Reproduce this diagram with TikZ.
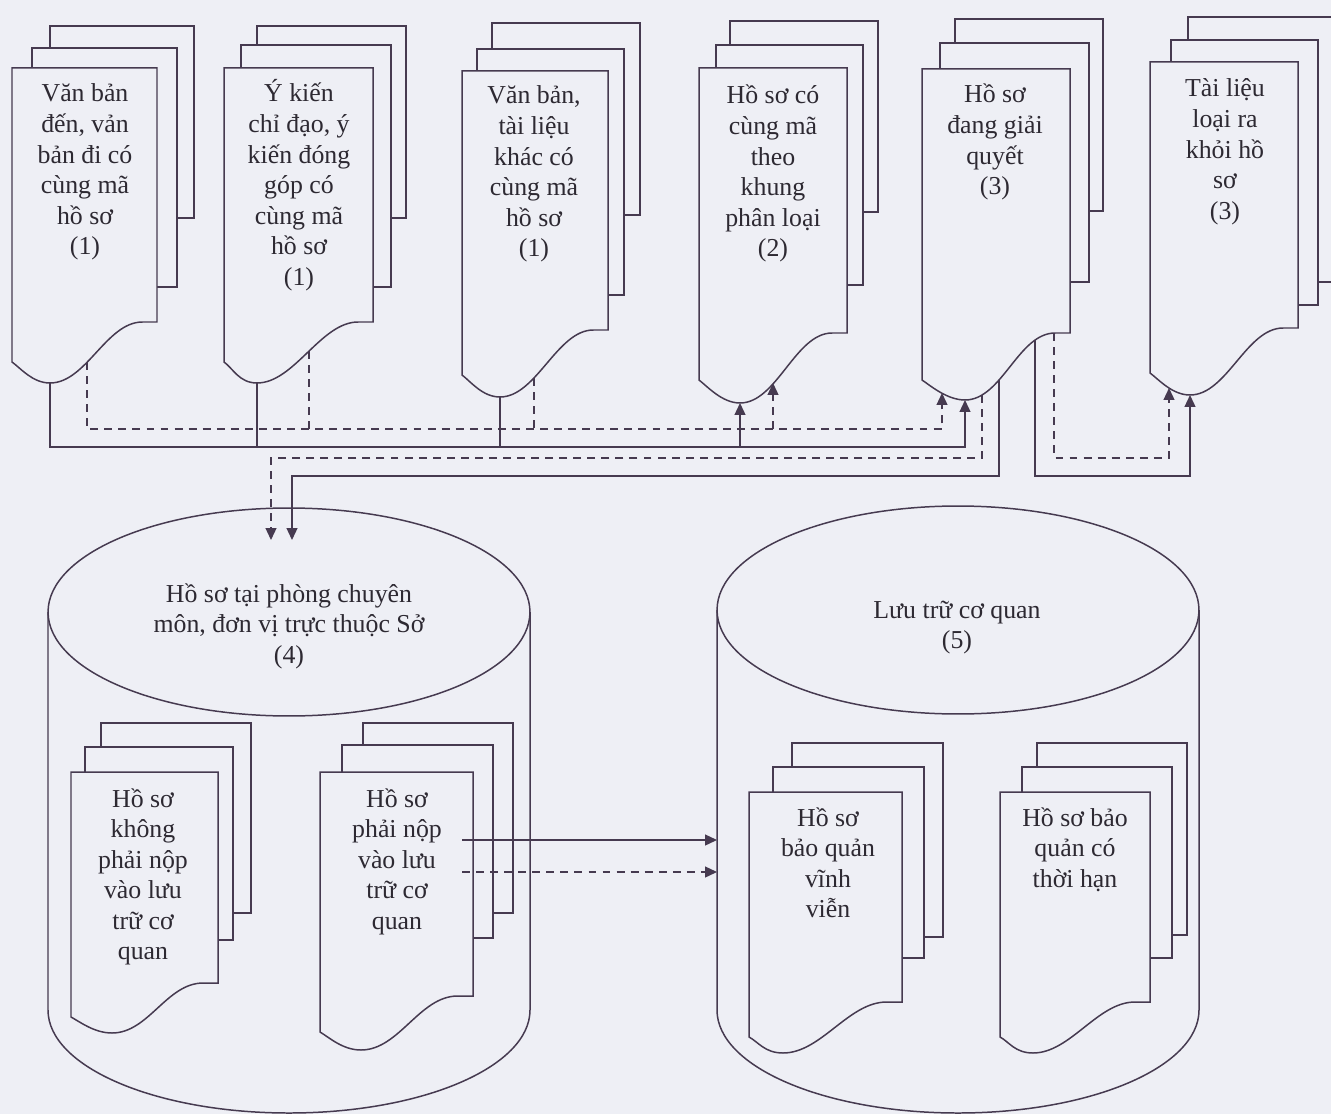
\documentclass[tikz,border=0pt]{standalone}
\usepackage{fontspec}
\setmainfont{Liberation Serif}
\usetikzlibrary{arrows.meta}
\definecolor{bg}{RGB}{238,239,245}
\definecolor{ln}{RGB}{70,58,80}
\definecolor{tx}{RGB}{45,41,50}
\newcommand{\lns}[1]{\begin{tabular}[t]{@{}c@{}}#1\end{tabular}}
\begin{document}
\begin{tikzpicture}[x=0.02cm,y=-0.02cm,
  page/.style={draw=ln,fill=bg,line width=0.85pt,line join=miter},
  sline/.style={draw=ln,line width=0.85pt},
  dline/.style={draw=ln,line width=0.85pt,dash pattern=on 4.5pt off 3.5pt},
  tip/.style={-{Triangle[length=6.8pt,width=6.2pt]}},
  lbl/.style={anchor=base,inner sep=0pt,text=tx,font=\fontsize{14.7}{17.4}\selectfont}]
\fill[bg] (0,0) rectangle (1331,1114);
\useasboundingbox (0,0) rectangle (1331,1114);
\clip (0,0) rectangle (1331,1114);

% cylinders
\foreach \cx/\cy/\cb in {289/612/1010, 958/610/1010}{
  \path[page] ({\cx-241},\cy) -- ({\cx-241},\cb) .. controls ({\cx-241},{\cb+57}) and ({\cx-133},{\cb+103}) .. (\cx,{\cb+103}) .. controls ({\cx+133},{\cb+103}) and ({\cx+241},{\cb+57}) .. ({\cx+241},\cb) -- ({\cx+241},\cy);
  \draw[page] (\cx,\cy) ellipse [x radius=4.82cm, y radius=2.08cm];
}
\coordinate (cylA) at (289,612);
\coordinate (cylB) at (958,610);

% document stacks
\foreach \fl/\ft/\fr/\frb/\flb/\qx/\qy/\ml/\mt/\mr/\mb/\bl/\bt/\br/\bb in {
  12/68/157/322/362/50/383/32/48/177/287/50/26/194/218,
  224/68/373/322/362/257/383/241/45/391/287/257/26/406/218,
  462/71/608/330/375/500/397/477/49/624/295/492/23/640/215,
  699/68/847/333/380/740/403/716/45/863/285/730/21/878/212,
  922/69/1070/333/380/965/400/940/43/1089/282/955/19/1103/211,
  1150/62/1298/328/373/1190/395/1171/40/1318/305/1188/17/1345/282,
  71/772/218/983/1017/112/1033/85/747/233/940/101/723/251/913,
  320/772/473/996/1032/361/1050/342/745/493/938/363/723/513/913,
  749/792/902/1002/1037/783/1053/773/767/924/958/792/743/943/937,
  1000/792/1150/1002/1037/1033/1053/1022/767/1172/958/1037/743/1187/935}{
  \draw[page] (\bl,\bt) rectangle (\br,\bb);
  \draw[page] (\ml,\mt) rectangle (\mr,\mb);
  \draw[page] (\fl,\ft) -- (\fr,\ft) -- (\fr,\frb) -- ({\fr-0.1*(\fr-\fl)},\frb)
    .. controls ({\fr-0.35*(\fr-\fl)},\frb) and ({\qx+0.25*(\fr-\fl)},\qy) .. (\qx,\qy)
    .. controls ({\qx-0.12*(\fr-\fl)},\qy) and ({\fl+0.06*(\fr-\fl)},{\flb+0.3*(\qy-\flb)}) .. (\fl,\flb) -- cycle;
}

% connection points
\coordinate (d1s) at (50,383);   \coordinate (d1d) at (87,362);
\coordinate (d2s) at (257,383);  \coordinate (d2d) at (309,351);
\coordinate (d3s) at (500,397);  \coordinate (d3d) at (534,378);
\coordinate (d4s) at (740,403);  \coordinate (d4d) at (773,383);
\coordinate (d5s) at (965,400);  \coordinate (d5d) at (942,393);
\coordinate (d5o1) at (982,395); \coordinate (d5o2) at (999,380);
\coordinate (d5o3) at (1035,340); \coordinate (d5o4) at (1054,333);
\coordinate (d6s) at (1190,395); \coordinate (d6d) at (1169,388);
\coordinate (busS) at (0,447);   \coordinate (busD) at (0,429);
\coordinate (lvA) at (0,458);    \coordinate (lvB) at (0,476);
\coordinate (c4d) at (271,540);  \coordinate (c4s) at (292,540);
\coordinate (bS) at (462,840);   \coordinate (bD) at (462,872);
\coordinate (c5s) at (717,840);  \coordinate (c5d) at (717,872);

% connectors
\draw[sline,tip] (d1s) |- (d5s |- busS) -- (d5s);
\draw[sline] (d2s) -- (d2s |- busS);
\draw[sline] (d3s) -- (d3s |- busS);
\draw[sline,tip] (d4s |- busS) -- (d4s);
\draw[dline,tip] (d1d) |- (d5d |- busD) -- (d5d);
\draw[dline] (d2d) -- (d2d |- busD);
\draw[dline] (d3d) -- (d3d |- busD);
\draw[dline,tip] (d4d |- busD) -- (d4d);
\draw[dline,tip] (d5o1) |- (c4d |- lvA) -- (c4d);
\draw[sline,tip] (d5o2) |- (c4s |- lvB) -- (c4s);
\draw[sline,tip] (d5o3) |- (d6s |- lvB) -- (d6s);
\draw[dline,tip] (d5o4) |- (d6d |- lvA) -- (d6d);
\draw[sline,tip] (bS) -- (c5s);
\draw[dline,tip] (bD) -- (c5d);

% texts
\node[lbl] (t1) at (85,102) {\lns{Văn bản\\đến, vản\\bản đi có\\cùng mã\\hồ sơ\\(1)}};
\node[lbl] (t2) at (299,102) {\lns{Ý kiến\\chỉ đạo, ý\\kiến đóng\\góp có\\cùng mã\\hồ sơ\\(1)}};
\node[lbl] (t3) at (534,104) {\lns{Văn bản,\\tài liệu\\khác có\\cùng mã\\hồ sơ\\(1)}};
\node[lbl] (t4) at (773,104) {\lns{Hồ sơ có\\cùng mã\\theo\\khung\\phân loại\\(2)}};
\node[lbl] (t5) at (995,103) {\lns{Hồ sơ\\đang giải\\quyết\\(3)}};
\node[lbl] (t6) at (1225,97) {\lns{Tài liệu\\loại ra\\khỏi hồ\\sơ\\(3)}};
\node[lbl] (t7) at (289,602) {\lns{Hồ sơ tại phòng chuyên\\môn, đơn vị trực thuộc Sở\\(4)}};
\node[lbl] (t8) at (957,618) {\lns{Lưu trữ cơ quan\\(5)}};
\node[lbl] (t9) at (143,807) {\lns{Hồ sơ\\không\\phải nộp\\vào lưu\\trữ cơ\\quan}};
\node[lbl] (t10) at (397,807) {\lns{Hồ sơ\\phải nộp\\vào lưu\\trữ cơ\\quan}};
\node[lbl] (t11) at (828,826) {\lns{Hồ sơ\\bảo quản\\vĩnh\\viễn}};
\node[lbl] (t12) at (1075,826) {\lns{Hồ sơ bảo\\quản có\\thời hạn}};
\end{tikzpicture}
\end{document}
